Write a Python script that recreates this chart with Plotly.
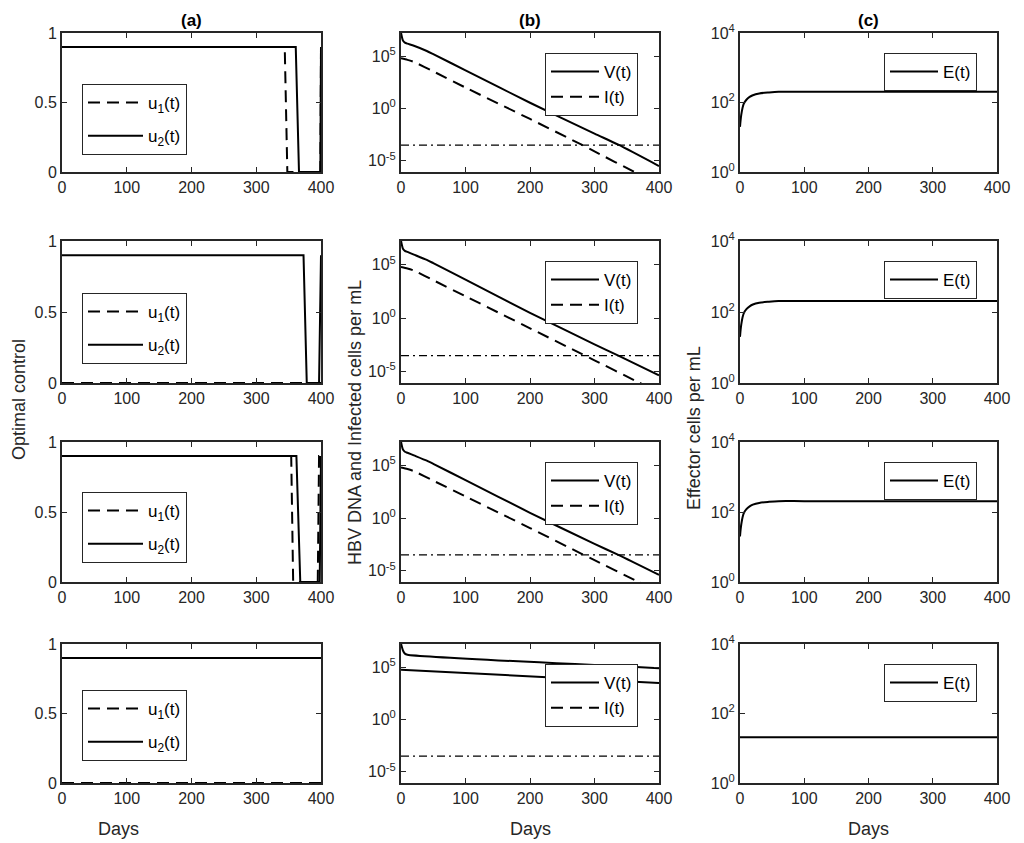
import numpy as np
import plotly.graph_objects as go

FONT = "Liberation Sans, Arial, Helvetica, sans-serif"
AX = "#262626"

# ---------------- data ----------------
days_ticks = [0, 100, 200, 300, 400]
control_ticks = [0, 0.5, 1]
viral_tickvals = [1e-5, 1, 1e5]
viral_ticktext = ["10<sup>-5</sup>", "10<sup>0</sup>", "10<sup>5</sup>"]
eff_tickvals = [1, 1e2, 1e4]
eff_ticktext = ["10<sup>0</sup>", "10<sup>2</sup>", "10<sup>4</sup>"]

# column (a): optimal controls
u1_days_r1 = [0, 344, 348, 399, 400]
u1_vals_r1 = [0.9, 0.9, 0, 0, 0.9]
u2_days_r1 = [0, 361, 366, 399, 400]
u2_vals_r1 = [0.9, 0.9, 0, 0, 0.9]

u1_days_r2 = [0, 400]
u1_vals_r2 = [0, 0]
u2_days_r2 = [0, 373, 378, 397, 400]
u2_vals_r2 = [0.9, 0.9, 0, 0, 0.9]

u1_days_r3 = [0, 354, 357, 395, 397, 400]
u1_vals_r3 = [0.9, 0.9, 0, 0, 0.9, 0.9]
u2_days_r3 = [0, 362, 368, 398, 400]
u2_vals_r3 = [0.9, 0.9, 0, 0, 0.9]

u1_days_r4 = [0, 400]
u1_vals_r4 = [0, 0]
u2_days_r4 = [0, 400]
u2_vals_r4 = [0.9, 0.9]

# column (b): log10 of V(t) and I(t)
V_days = [0, 3, 6, 10, 20, 40, 50, 100, 200, 300, 337, 400]
logV_r1 = [7.25, 6.5, 6.3, 6.2, 6.0, 5.5, 5.2, 3.65, 0.55, -2.4, -3.46, -5.5]
logV_r2 = [7.25, 6.5, 6.3, 6.2, 5.95, 5.45, 5.15, 3.6, 0.5, -2.45, -3.5, -5.35]
logV_r3 = [7.25, 6.5, 6.3, 6.2, 5.95, 5.45, 5.15, 3.6, 0.5, -2.45, -3.5, -5.4]
V_days_r4 = [0, 3, 6, 10, 400]
logV_r4 = [7.25, 6.6, 6.3, 6.2, 4.9]

I_days = [0, 10, 20, 50, 100, 200, 280, 300, 363, 400]
logI_r1 = [4.8, 4.65, 4.45, 3.55, 2.0, -1.0, -3.46, -4.1, -6.1, -7.2]
logI_r2 = [4.8, 4.65, 4.45, 3.55, 2.05, -0.95, -3.35, -3.95, -5.85, -6.95]
logI_r3 = [4.8, 4.65, 4.45, 3.55, 2.05, -0.95, -3.4, -4.0, -5.9, -7.0]
I_days_r4 = [0, 400]
logI_r4 = [4.75, 3.5]

threshold_days = [0, 400]
log_threshold = [-3.5, -3.5]

# column (c): log10 of E(t)
E_days = [0, 1, 2, 4, 6, 10, 15, 20, 30, 45, 60, 100, 400]
logE_r1 = [1.3, 1.5, 1.65, 1.85, 1.97, 2.08, 2.16, 2.21, 2.26, 2.29, 2.31, 2.31, 2.31]
logE_r2 = [1.3, 1.5, 1.65, 1.85, 1.97, 2.08, 2.16, 2.21, 2.26, 2.29, 2.31, 2.31, 2.31]
logE_r3 = [1.3, 1.5, 1.65, 1.85, 1.97, 2.08, 2.16, 2.21, 2.26, 2.29, 2.31, 2.31, 2.31]
E_days_r4 = [0, 400]
logE_r4 = [1.32, 1.32]

# ---------------- layout geometry (target-window pixels) ----------------
OFF = 8                      # page body margin of the html page
W, H = 1024 - OFF, 843 - OFF  # figure size
col_px = [(62, 321), (401, 659), (740, 997)]
row_px = [(33, 172), (241, 383), (442, 582), (644, 783)]
legend_a_top = [84, 293, 492, 690]
days_label_x = [118, 530, 868]


def px_x(p):
    return (p - OFF) / W


def px_y(p):
    return 1 - (p - OFF) / H


DASH = "12px,7px"
DASHDOT = "8px,4px,2px,4px"

fig = go.Figure()
layout = dict(
    template="none",
    width=W, height=H,
    margin=dict(l=0, r=0, t=0, b=0, pad=0, autoexpand=False),
    paper_bgcolor="white", plot_bgcolor="white", showlegend=True,
    font=dict(family=FONT, size=16, color=AX),
)

u_rows = [
    (u1_days_r1, u1_vals_r1, u2_days_r1, u2_vals_r1),
    (u1_days_r2, u1_vals_r2, u2_days_r2, u2_vals_r2),
    (u1_days_r3, u1_vals_r3, u2_days_r3, u2_vals_r3),
    (u1_days_r4, u1_vals_r4, u2_days_r4, u2_vals_r4),
]
vi_rows = [
    (V_days, logV_r1, I_days, logI_r1, DASH),
    (V_days, logV_r2, I_days, logI_r2, DASH),
    (V_days, logV_r3, I_days, logI_r3, DASH),
    (V_days_r4, logV_r4, I_days_r4, logI_r4, "solid"),
]
e_rows = [
    (E_days, logE_r1), (E_days, logE_r2), (E_days, logE_r3), (E_days_r4, logE_r4),
]


def legend_cfg(x, y, gap, iw):
    return dict(
        x=x, y=y, xanchor="left", yanchor="top", xref="paper", yref="paper",
        bgcolor="white", bordercolor=AX, borderwidth=1,
        font=dict(family=FONT, size=17, color="black"),
        itemwidth=iw, tracegroupgap=gap, itemclick=False, itemdoubleclick=False,
    )


idx = 0
for r in range(4):
    for c in range(3):
        idx += 1
        xa = "x" if idx == 1 else f"x{idx}"
        ya = "y" if idx == 1 else f"y{idx}"
        lg = "legend" if idx == 1 else f"legend{idx}"
        xkey = "xaxis" if idx == 1 else f"xaxis{idx}"
        ykey = "yaxis" if idx == 1 else f"yaxis{idx}"
        x0, x1 = col_px[c]
        y0, y1 = row_px[r]
        common = dict(
            showline=True, linecolor=AX, linewidth=2, mirror="ticks",
            ticks="inside", ticklen=5, tickwidth=1, tickcolor=AX,
            showgrid=False, zeroline=False, automargin=False,
            tickfont=dict(family=FONT, size=16, color=AX),
        )
        layout[xkey] = dict(
            domain=[px_x(x0), px_x(x1)], anchor=ya, range=[0, 400],
            tickmode="array", tickvals=days_ticks, **common,
        )
        if c == 0:
            layout[ykey] = dict(
                domain=[px_y(y1), px_y(y0)], anchor=xa, range=[0, 1],
                tickmode="array", tickvals=control_ticks,
                ticktext=["0", "0.5", "1"], **common,
            )
            d1, v1, d2, v2 = u_rows[r]
            g = f"g{idx}"
            fig.add_trace(go.Scatter(
                x=d1, y=v1, mode="lines", name="u<sub>1</sub>(t)",
                line=dict(color="black", width=2, dash=DASH),
                xaxis=xa, yaxis=ya, legend=lg, legendgroup=g + "a"))
            fig.add_trace(go.Scatter(
                x=d2, y=v2, mode="lines", name="u<sub>2</sub>(t)",
                line=dict(color="black", width=2),
                xaxis=xa, yaxis=ya, legend=lg, legendgroup=g + "b"))
            layout[lg] = legend_cfg(px_x(82), px_y(legend_a_top[r]), 8, 55)
        elif c == 1:
            layout[ykey] = dict(
                domain=[px_y(y1), px_y(y0)], anchor=xa, type="log",
                range=[-6.07, 7.22], tickmode="array",
                tickvals=viral_tickvals, ticktext=viral_ticktext, **common,
            )
            vd, lv, idd, li, idash = vi_rows[r]
            g = f"g{idx}"
            fig.add_trace(go.Scatter(
                x=threshold_days, y=np.power(10.0, log_threshold), mode="lines",
                line=dict(color="black", width=1.3, dash=DASHDOT),
                showlegend=False, xaxis=xa, yaxis=ya, hoverinfo="skip"))
            fig.add_trace(go.Scatter(
                x=vd, y=np.power(10.0, lv), mode="lines", name="V(t)",
                line=dict(color="black", width=2, shape="spline", smoothing=0.6),
                xaxis=xa, yaxis=ya, legend=lg, legendgroup=g + "a"))
            if idash == "solid":
                fig.add_trace(go.Scatter(
                    x=idd, y=np.power(10.0, li), mode="lines", name="I(t)",
                    line=dict(color="black", width=2),
                    showlegend=False, xaxis=xa, yaxis=ya))
                fig.add_trace(go.Scatter(
                    x=[None], y=[None], mode="lines", name="I(t)",
                    line=dict(color="black", width=2, dash=DASH),
                    xaxis=xa, yaxis=ya, legend=lg, legendgroup=g + "b"))
            else:
                fig.add_trace(go.Scatter(
                    x=idd, y=np.power(10.0, li), mode="lines", name="I(t)",
                    line=dict(color="black", width=2, dash=idash,
                              shape="spline", smoothing=0.6),
                    xaxis=xa, yaxis=ya, legend=lg, legendgroup=g + "b"))
            layout[lg] = legend_cfg(px_x(545), px_y(y0 + 20), 0, 48)
        else:
            layout[ykey] = dict(
                domain=[px_y(y1), px_y(y0)], anchor=xa, type="log",
                range=[0, 4], tickmode="array",
                tickvals=eff_tickvals, ticktext=eff_ticktext, **common,
            )
            ed, le = e_rows[r]
            fig.add_trace(go.Scatter(
                x=ed, y=np.power(10.0, le), mode="lines", name="E(t)",
                line=dict(color="black", width=2, shape="spline", smoothing=0.8),
                xaxis=xa, yaxis=ya, legend=lg))
            layout[lg] = legend_cfg(px_x(884), px_y(y0 + 20), 0, 48)

annotations = []
for c, lab in enumerate(["(a)", "(b)", "(c)"]):
    x0, x1 = col_px[c]
    annotations.append(dict(
        text=f"<b>{lab}</b>", x=px_x((x0 + x1) / 2), y=px_y(20),
        xref="paper", yref="paper", showarrow=False,
        xanchor="center", yanchor="middle",
        font=dict(family=FONT, size=17, color="black")))
    annotations.append(dict(
        text="Days", x=px_x(days_label_x[c]), y=px_y(829),
        xref="paper", yref="paper", showarrow=False,
        xanchor="center", yanchor="middle",
        font=dict(family=FONT, size=18, color=AX)))

annotations.append(dict(
    text="Optimal control", x=px_x(19), y=px_y(400), textangle=-90,
    xref="paper", yref="paper", showarrow=False,
    xanchor="center", yanchor="middle",
    font=dict(family=FONT, size=18, color=AX)))
annotations.append(dict(
    text="HBV DNA and Infected cells per mL", x=px_x(355), y=px_y(423),
    textangle=-90, xref="paper", yref="paper", showarrow=False,
    xanchor="center", yanchor="middle",
    font=dict(family=FONT, size=18, color=AX)))
annotations.append(dict(
    text="Effector cells per mL", x=px_x(694), y=px_y(428), textangle=-90,
    xref="paper", yref="paper", showarrow=False,
    xanchor="center", yanchor="middle",
    font=dict(family=FONT, size=18, color=AX)))
layout["annotations"] = annotations

fig.update_layout(**layout)
fig.write_html("out.html")
